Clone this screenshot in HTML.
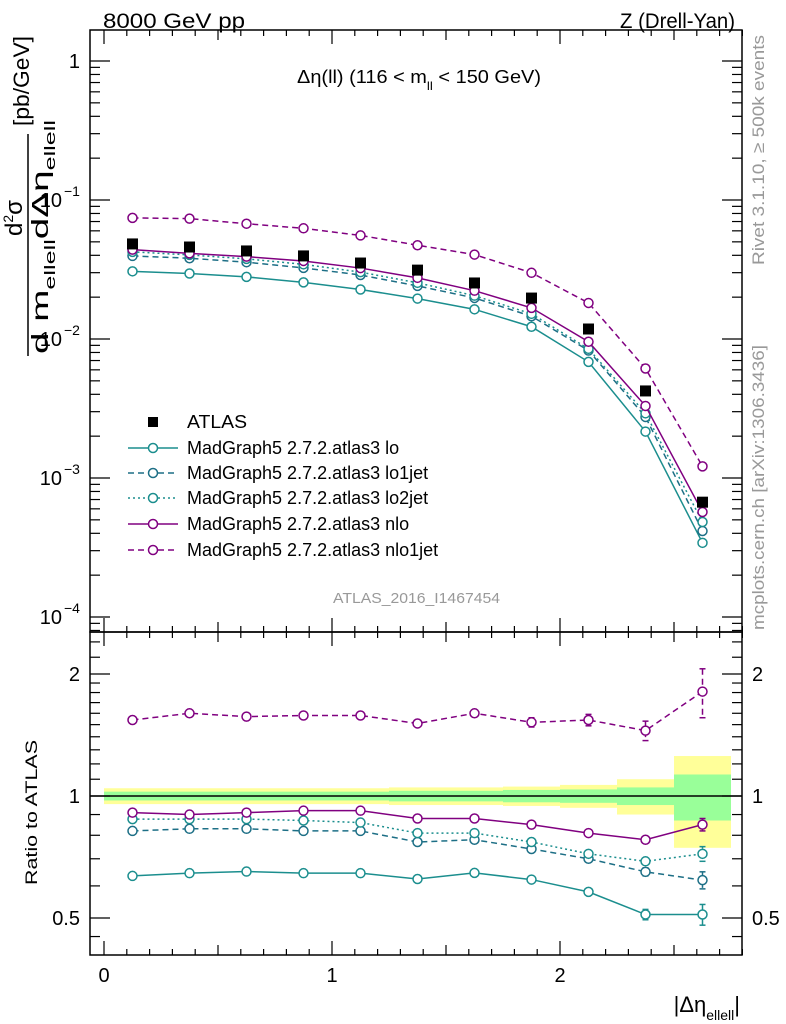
<!DOCTYPE html>
<html><head><meta charset="utf-8"><style>
body{margin:0;background:#fff}
svg{display:block;font-family:"Liberation Sans",sans-serif}
</style></head><body>
<svg id="c" width="786" height="1024" viewBox="0 0 786 1024" xmlns="http://www.w3.org/2000/svg">
<g id="bands"></g>
<rect x="90" y="30" width="652" height="602" fill="none" stroke="#000" stroke-width="1.5"/>
<rect x="90" y="632" width="652" height="323" fill="none" stroke="#000" stroke-width="1.5"/>
<g id="ticks" stroke="#000" stroke-width="1.2"></g>
<g id="series"></g>
<text x="103" y="28" font-size="21" textLength="142" lengthAdjust="spacingAndGlyphs">8000 GeV pp</text>
<text x="620" y="28" font-size="21" textLength="115" lengthAdjust="spacingAndGlyphs">Z (Drell-Yan)</text>
<text x="297" y="83" font-size="18" textLength="244" lengthAdjust="spacingAndGlyphs">Δη(ll) (116 &lt; m<tspan font-size="12" dy="7">ll</tspan><tspan dy="-7"> &lt; 150 GeV)</tspan></text>
<text x="333" y="603" font-size="15" fill="#999" textLength="167" lengthAdjust="spacingAndGlyphs">ATLAS_2016_I1467454</text>
<text transform="translate(764,265) rotate(-90)" font-size="17" fill="#999" textLength="230" lengthAdjust="spacingAndGlyphs">Rivet 3.1.10, ≥ 500k events</text>
<text transform="translate(764,630) rotate(-90)" font-size="17" fill="#999" textLength="285" lengthAdjust="spacingAndGlyphs">mcplots.cern.ch [arXiv:1306.3436]</text>
<g>
<text transform="translate(22,236) rotate(-90)" font-size="24">d<tspan font-size="14" dy="-9">2</tspan><tspan dy="9">σ</tspan></text>
<line x1="28" y1="356" x2="28" y2="134" stroke="#000" stroke-width="1.5"/>
<text transform="translate(48,354) rotate(-90)" font-size="23" textLength="234" lengthAdjust="spacingAndGlyphs">d m<tspan font-size="15" dy="7">ellell</tspan><tspan dy="-7">dΔη</tspan><tspan font-size="15" dy="7">ellell</tspan></text>
<text transform="translate(29,126) rotate(-90)" font-size="22" textLength="90" lengthAdjust="spacingAndGlyphs">[pb/GeV]</text>
</g>
<text transform="translate(37,885) rotate(-90)" font-size="17" textLength="145" lengthAdjust="spacingAndGlyphs">Ratio to ATLAS</text>
<text x="740" y="1012" font-size="22" text-anchor="end">|Δη<tspan font-size="14" dy="8">ellell</tspan><tspan dy="-8">|</tspan></text>
<g id="legend" font-size="18"></g>
</svg>
<script>
const binEdges=[0,0.25,0.5,0.75,1,1.25,1.5,1.75,2,2.25,2.5,2.75];
const atlas=[0.0483,0.0459,0.0430,0.0396,0.0352,0.0313,0.0253,0.0197,0.0118,0.00423,0.00067];
const bandYellow=[0.045,0.045,0.045,0.045,0.045,0.05,0.05,0.055,0.065,0.10,0.255];
const bandGreen=[0.025,0.025,0.025,0.025,0.025,0.03,0.03,0.035,0.038,0.05,0.13];
const rLo=[0.635,0.645,0.651,0.645,0.645,0.624,0.646,0.622,0.58,0.51,0.51];
const rLo1=[0.82,0.83,0.83,0.82,0.82,0.77,0.78,0.74,0.70,0.65,0.62];
const rLo2=[0.877,0.877,0.877,0.87,0.86,0.81,0.81,0.77,0.72,0.69,0.72];
const rNlo=[0.91,0.90,0.91,0.92,0.92,0.88,0.88,0.85,0.81,0.78,0.85];
const rNlo1=[1.54,1.60,1.57,1.58,1.58,1.51,1.60,1.52,1.54,1.45,1.81];
const errNlo1=[0.015,0.02,0.02,0.02,0.025,0.025,0.03,0.04,0.05,0.08,0.25];
const errSmall=[0.005,0.005,0.005,0.005,0.005,0.005,0.005,0.008,0.01,0.015,0.03];
const yTickLabels=["1","10","10","10","10"];
const yTickExp=[null,"−1","−2","−3","−4"];
const ratioTicks=[0.5,1,2];
const xTicks=[0,1,2];

const X=v=>104+228*v;
const Y=v=>61-139*Math.log10(v);
const R=v=>796-122*Math.log2(v);
const NS="http://www.w3.org/2000/svg";
function mk(tag,attrs,parent){const e=document.createElementNS(NS,tag);for(const k in attrs)e.setAttribute(k,attrs[k]);parent.appendChild(e);return e;}
const svg=document.getElementById('c');
const bands=document.getElementById('bands'),ticks=document.getElementById('ticks'),series=document.getElementById('series'),legend=document.getElementById('legend');

for(let i=0;i<atlas.length;i++){
 const x0=X(binEdges[i]),x1=X(binEdges[i+1]);
 const y1=mk('rect',{x:x0,y:R(1+bandYellow[i]),width:x1-x0,height:R(1-bandYellow[i])-R(1+bandYellow[i]),fill:'#ffff99'},bands);
 
 
 const g1=mk('rect',{x:x0,y:R(1+bandGreen[i]),width:x1-x0,height:R(1-bandGreen[i])-R(1+bandGreen[i]),fill:'#99ff99'},bands);
 
 
}
const ref=mk('line',{x1:90,x2:742,y1:R(1),y2:R(1),stroke:'#000','stroke-width':1.5},bands);



for(let k=0;k<=28;k++){
 const v=k/10;const major=k%10==0, half=k%5==0;
 const L=major?14:(half?10:6);const x=X(v);
 for(const [yb,dir] of [[955,-1],[632,-1],[632,1],[30,1]]) mk('line',{x1:x,x2:x,y1:yb,y2:yb+dir*L},ticks);
}
xTicks.forEach(v=>{const t=mk('text',{x:X(v),y:982,'font-size':20,'text-anchor':'middle'},svg);t.textContent=v;
 
 });
for(let d=0;d>=-5;d--){
 for(let m=1;m<=9;m++){
  const vv=m==1?Math.pow(10,d):m*Math.pow(10,d-1);
  const y=Y(vv);if(y<30||y>632)continue;
  const L=m==1?20:10;
  mk('line',{x1:90,x2:90+L,y1:y,y2:y},ticks);mk('line',{x1:742,x2:742-L,y1:y,y2:y},ticks);}
}
yTickLabels.forEach((s,i)=>{const t=mk('text',{x:yTickExp[i]?62:80,y:Y(Math.pow(10,-i))+7,'font-size':20,'text-anchor':'end'},svg);t.textContent=s;
 if(yTickExp[i]){const e=mk('text',{x:64,y:Y(Math.pow(10,-i))-4,'font-size':14},svg);e.textContent=yTickExp[i];}
 
 });
const rMinor=[0.45,0.6,0.7,0.8,0.9,1.1,1.2,1.3,1.4,1.5,1.6,1.7,1.8,1.9,2.2,2.4];
rMinor.forEach(v=>{const y=R(v);mk('line',{x1:90,x2:100,y1:y,y2:y},ticks);mk('line',{x1:742,x2:732,y1:y,y2:y},ticks);});
ratioTicks.forEach(v=>{const y=R(v);mk('line',{x1:90,x2:110,y1:y,y2:y},ticks);mk('line',{x1:742,x2:722,y1:y,y2:y},ticks);
 for(const [x,a] of [[80,'end'],[752,'start']]){const t=mk('text',{x:x,y:y+7,'font-size':20,'text-anchor':a},svg);t.textContent=v;
 
 }});

const centers=atlas.map((_,i)=>(binEdges[i]+binEdges[i+1])/2);
const models=[
 {name:'lo',r:rLo,col:'#1b8e8e',dash:'',err:errSmall,label:'MadGraph5 2.7.2.atlas3 lo'},
 {name:'lo1jet',r:rLo1,col:'#1d6f86',dash:'6,4',err:errSmall,label:'MadGraph5 2.7.2.atlas3 lo1jet'},
 {name:'lo2jet',r:rLo2,col:'#1b8e8e',dash:'2,3',err:errSmall,label:'MadGraph5 2.7.2.atlas3 lo2jet'},
 {name:'nlo',r:rNlo,col:'#800080',dash:'',err:errSmall,label:'MadGraph5 2.7.2.atlas3 nlo'},
 {name:'nlo1jet',r:rNlo1,col:'#800080',dash:'6,4',err:errNlo1,label:'MadGraph5 2.7.2.atlas3 nlo1jet'}];
models.forEach(m=>{
 const g=mk('g',{},series);
 
 
 const pm=centers.map((c,i)=>X(c)+','+Y(atlas[i]*m.r[i])).join(' ');
 const pr=centers.map((c,i)=>X(c)+','+R(m.r[i])).join(' ');
 mk('polyline',{points:pm,fill:'none',stroke:m.col,'stroke-width':1.5,'stroke-dasharray':m.dash},g);
 mk('polyline',{points:pr,fill:'none',stroke:m.col,'stroke-width':1.5,'stroke-dasharray':m.dash},g);
 centers.forEach((c,i)=>{
  const x=X(c);
  const yr1=R(m.r[i]+m.err[i]),yr2=R(m.r[i]-m.err[i]);
  if(yr2-yr1>8){mk('line',{x1:x,x2:x,y1:yr1,y2:yr2,stroke:m.col,'stroke-width':1.5,'stroke-dasharray':m.dash},g);
   mk('line',{x1:x-3,x2:x+3,y1:yr1,y2:yr1,stroke:m.col,'stroke-width':1.5},g);mk('line',{x1:x-3,x2:x+3,y1:yr2,y2:yr2,stroke:m.col,'stroke-width':1.5},g);}
  const a=mk('circle',{cx:x,cy:Y(atlas[i]*m.r[i]),r:4.5,fill:'#fff',stroke:m.col,'stroke-width':1.5},g);
  
  
  const b=mk('circle',{cx:x,cy:R(m.r[i]),r:4.5,fill:'#fff',stroke:m.col,'stroke-width':1.5},g);
  
  
 });
});
centers.forEach((c,i)=>{const s=mk('rect',{x:X(c)-5.5,y:Y(atlas[i])-5.5,width:11,height:11,fill:'#000'},series);
 
 });

const lr=[422,448,473,498,524,550];
mk('rect',{x:148,y:lr[0]-5,width:10,height:10,fill:'#000'},legend);
const lt=mk('text',{x:187,y:lr[0]+6,textLength:60,lengthAdjust:'spacingAndGlyphs'},legend);lt.textContent='ATLAS';


models.forEach((m,i)=>{const y=lr[i+1];
 mk('line',{x1:128,x2:178,y1:y,y2:y,stroke:m.col,'stroke-width':1.5,'stroke-dasharray':m.dash},legend);
 mk('circle',{cx:153,cy:y,r:4.5,fill:'#fff',stroke:m.col,'stroke-width':1.5},legend);
 const t=mk('text',{x:187,y:y+6},legend);t.textContent=m.label;
 
 });
</script>
</body></html>
